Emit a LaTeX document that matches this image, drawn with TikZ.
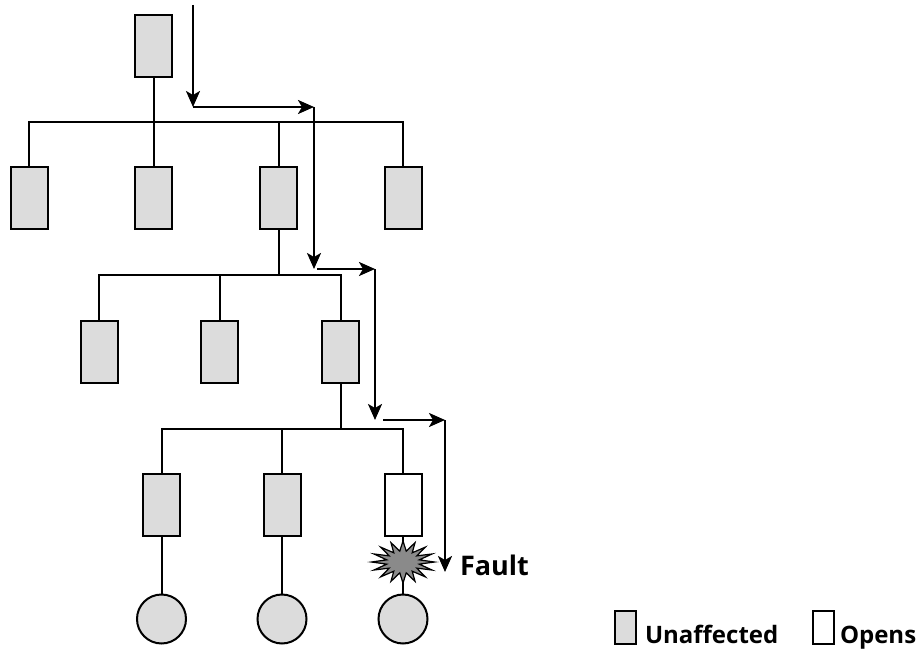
\documentclass[tikz,border=0pt]{standalone}
\usepackage{fontspec}
\setmainfont{Open Sans}
\usetikzlibrary{arrows.meta,shapes.geometric}
\definecolor{boxgray}{HTML}{DCDCDC}
\definecolor{sparkgray}{HTML}{8A8A8A}

\begin{document}
\begin{tikzpicture}[x=1pt, y=-1pt, line width=2pt,
    brk/.style={draw, rectangle, fill=boxgray, minimum width=37pt, minimum height=62pt, inner sep=0pt},
    opened/.style={brk, fill=white},
    load/.style={draw, circle, fill=boxgray, minimum size=49pt, inner sep=0pt},
    flow/.style={line width=2.3pt, -{Stealth[length=16pt, width=14pt, inset=4pt]}},
    lbl/.style={font=\bfseries\fontsize{24}{28}\selectfont, inner sep=0pt, anchor=base west}]
    \useasboundingbox (0,0) rectangle (921,650);

    % breakers
    \node[brk] (s0) at (153.5, 46) {};
    \node[brk] (s1) at (29, 198) {};
    \node[brk] (s2) at (153.5, 198) {};
    \node[brk] (s3) at (278.5, 198) {};
    \node[brk] (s4) at (403, 198) {};
    \node[brk] (s5) at (99, 352) {};
    \node[brk] (s6) at (219.5, 352) {};
    \node[brk] (s7) at (340.5, 352) {};
    \node[brk] (s8) at (161.5, 505) {};
    \node[brk] (s9) at (282, 505) {};
    \node[opened] (s10) at (403, 505) {};

    % loads
    \node[load] (m1) at (161.5, 619) {};
    \node[load] (m2) at (282, 619) {};
    \node[load] (m3) at (403, 619) {};

    \coordinate (bus1) at (0, 122);
    \coordinate (bus2) at (0, 275);
    \coordinate (bus3) at (0, 429);

    \draw (s0) -- (s2);
    \draw (s1.north) -- (s1.north |- bus1) -- (s4.north |- bus1) -- (s4.north);
    \draw (s3.north) -- (s3.north |- bus1);
    \draw (s3.south) -- (s3.south |- bus2);
    \draw (s5.north) -- (s5.north |- bus2) -- (s7.north |- bus2) -- (s7.north);
    \draw (s6.north) -- (s6.north |- bus2);
    \draw (s7.south) -- (s7.south |- bus3);
    \draw (s8.north) -- (s8.north |- bus3) -- (s10.north |- bus3) -- (s10.north);
    \draw (s9.north) -- (s9.north |- bus3);
    \draw (s8) -- (m1);
    \draw (s9) -- (m2);
    \draw (s10) -- (m3);

    \node[draw, star, star points=16, star point ratio=1.9, minimum size=42pt, inner sep=0pt,
      fill=sparkgray, xscale=1.5, line width=1.2pt] (spark) at (403, 562) {};

    % fault current path
    \coordinate (f0) at (193, 5);
    \coordinate (f1) at (193, 107);
    \coordinate (f2) at (314, 107);
    \coordinate (f3) at (314, 269);
    \coordinate (f4) at (375, 269);
    \coordinate (f5) at (375, 420);
    \coordinate (f6) at (445, 420);
    \coordinate (f7) at (445, 572);
    \draw[flow] (f0) -- (f1);
    \draw[flow] (f1) -- (f2);
    \draw[flow] (f2) -- (f3);
    \draw[flow, shorten <=3pt] (f3) -- (f4);
    \draw[flow] (f4) -- (f5);
    \draw[flow, shorten <=8pt] (f5) -- (f6);
    \draw[flow] (f6) -- (f7);
    \node[lbl, font=\bfseries\fontsize{27}{30}\selectfont] (fault) at (459, 575) {Fault};

    % legend
    \node[brk, minimum width=21pt, minimum height=33pt] (k1) at (625.5, 627.5) {};
    \node[lbl] (t1) at (644, 643) {Unaffected};
    \node[opened, minimum width=21pt, minimum height=33pt] (k2) at (823.5, 627.5) {};
    \node[lbl] (t2) at (839, 643) {Opens};
  \end{tikzpicture}
\end{document}
